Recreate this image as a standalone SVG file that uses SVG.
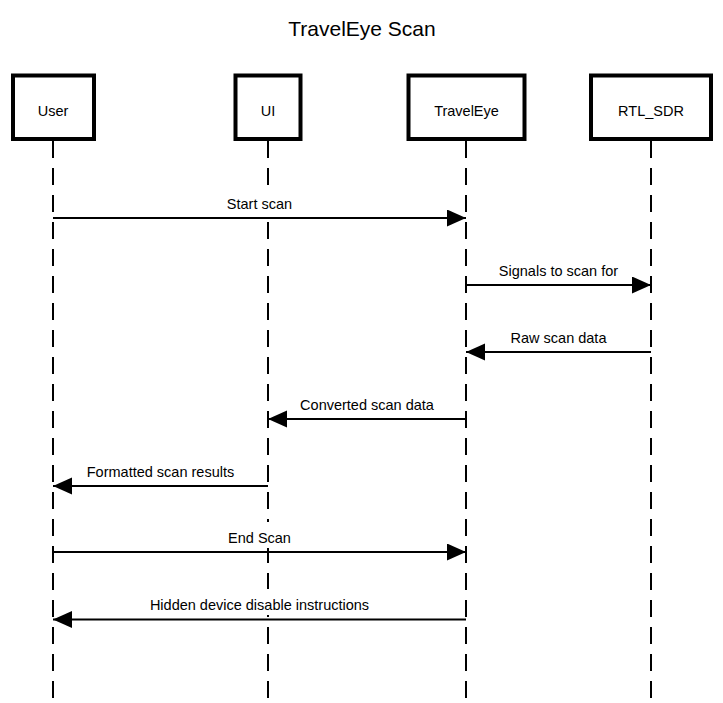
<svg xmlns="http://www.w3.org/2000/svg" width="723" height="703" viewBox="0 0 723 703">
  <style>
    text { font-family: "Liberation Sans", Arial, sans-serif; fill: #000; }
    .title { font-size: 21px; text-anchor: middle; }
    .actor rect { fill: #fff; stroke: #000; stroke-width: 4; }
    .actor text { font-size: 14.5px; text-anchor: middle; }
    .lifeline { stroke: #000; stroke-width: 2; stroke-dasharray: 17 10; fill: none; }
    .msg line { stroke: #000; stroke-width: 2; marker-end: url(#head); }
    .msg rect { fill: #fff; stroke: none; }
    .msg text { font-size: 14.5px; text-anchor: middle; }
  </style>
  <defs>
    <marker id="head" markerUnits="userSpaceOnUse" markerWidth="20" markerHeight="18" refX="19" refY="8.5" orient="auto">
      <path d="M0,0 L19,8.5 L0,17 Z" fill="#000"/>
    </marker>
  </defs>
  <rect width="723" height="703" fill="#fff"/>
  <text class="title" x="362" y="36">TravelEye Scan</text>

  <!-- lifelines -->
  <g id="lifelines">
    <line class="lifeline" x1="53" y1="141" x2="53" y2="703"/>
    <line class="lifeline" x1="268" y1="141" x2="268" y2="703"/>
    <line class="lifeline" x1="466" y1="141" x2="466" y2="703"/>
    <line class="lifeline" x1="651" y1="141" x2="651" y2="703"/>
  </g>

  <!-- participants -->
  <g id="user" class="actor">
    <rect x="13" y="75.5" width="81" height="63.5"/>
    <text x="53" y="116">User</text>
  </g>
  <g id="ui" class="actor">
    <rect x="235.5" y="75.5" width="65" height="63.5"/>
    <text x="268" y="116">UI</text>
  </g>
  <g id="traveleye" class="actor">
    <rect x="408.5" y="75.5" width="116" height="63.5"/>
    <text x="466.5" y="116">TravelEye</text>
  </g>
  <g id="rtl_sdr" class="actor">
    <rect x="591" y="75.5" width="120" height="63.5"/>
    <text x="651" y="116">RTL_SDR</text>
  </g>

  <!-- messages -->
  <g id="connectors">
    <g class="msg">
      <rect x="219" y="188" width="81" height="26"/>
      <text x="259.5" y="209">Start scan</text>
      <line x1="53" y1="218" x2="466" y2="218"/>
    </g>
    <g class="msg">
      <rect x="492" y="255" width="134" height="26"/>
      <text x="558.5" y="276">Signals to scan for</text>
      <line x1="466" y1="285" x2="651" y2="285"/>
    </g>
    <g class="msg">
      <rect x="503" y="322" width="112" height="26"/>
      <text x="558.5" y="343">Raw scan data</text>
      <line x1="651" y1="352" x2="466" y2="352"/>
    </g>
    <g class="msg">
      <rect x="291" y="389" width="152" height="26"/>
      <text x="367" y="410">Converted scan data</text>
      <line x1="466" y1="419" x2="268" y2="419"/>
    </g>
    <g class="msg">
      <rect x="77" y="456" width="167" height="26"/>
      <text x="160.5" y="477">Formatted scan results</text>
      <line x1="268" y1="486" x2="53" y2="486"/>
    </g>
    <g class="msg">
      <rect x="221" y="522" width="77" height="26"/>
      <text x="259.5" y="543">End Scan</text>
      <line x1="53" y1="552" x2="466" y2="552"/>
    </g>
    <g class="msg">
      <rect x="141" y="589" width="237" height="26"/>
      <text x="259.5" y="610">Hidden device disable instructions</text>
      <line x1="466" y1="619.5" x2="53" y2="619.5"/>
    </g>
  </g>
</svg>
